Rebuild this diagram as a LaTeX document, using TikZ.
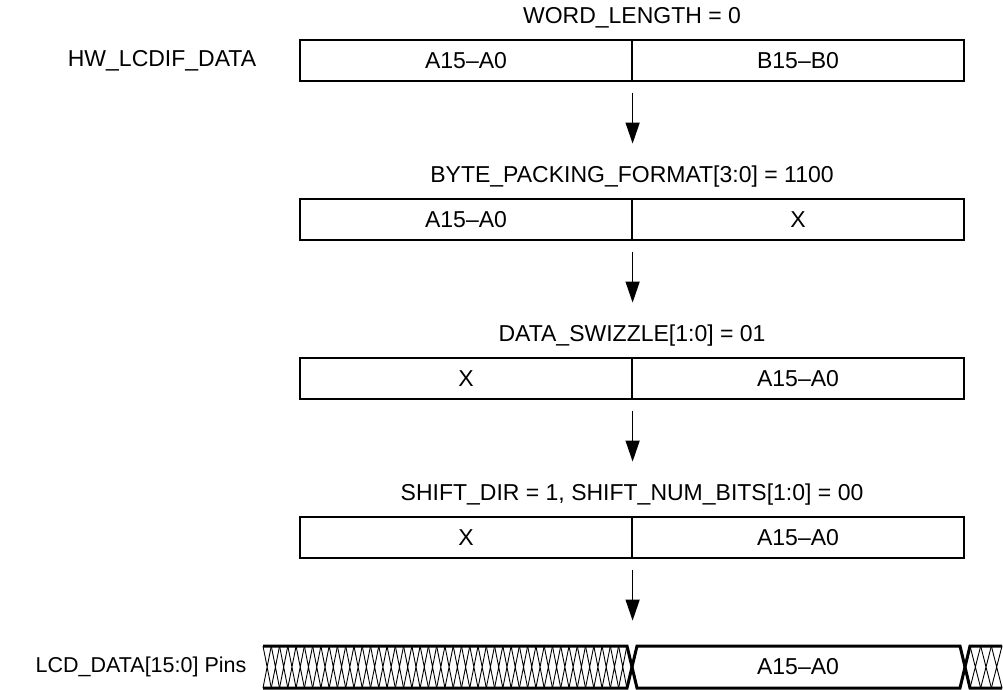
\documentclass[tikz,border=0pt]{standalone}
\usepackage{fontspec}
\setmainfont{Liberation Sans}
\usepackage{tikz}
\usetikzlibrary{arrows.meta,positioning}

\begin{document}
\begin{tikzpicture}[x=1pt,y=-1pt,
  every node/.style={font=\fontsize{23}{27}\selectfont},
  cell/.style={draw, line width=1.2pt, minimum width=332pt, minimum height=41pt, inner sep=0pt},
  arr/.style={line width=1.4pt, -{Triangle[length=21pt,width=14pt]}},
  bus/.style={line width=3pt, line join=miter},
  hatch/.style={line width=0.9pt}]
\useasboundingbox (0,0) rectangle (1003,690);

\node (reg) at (162,60.5) {HW\_LCDIF\_DATA};
\node (t1) at (632,18) {WORD\_LENGTH = 0};
\node[cell] (a1) at (466,60.5) {A15–A0};
\node[cell] (b1) at (798,60.5) {B15–B0};
\draw[arr] ([yshift=-11pt]a1.south east) -- ([yshift=-62pt]a1.south east);

\node (t2) at (632,177) {BYTE\_PACKING\_FORMAT[3:0] = 1100};
\node[cell] (a2) at (466,219.5) {A15–A0};
\node[cell] (b2) at (798,219.5) {X};
\draw[arr] ([yshift=-11pt]a2.south east) -- ([yshift=-62pt]a2.south east);

\node (t3) at (632,336) {DATA\_SWIZZLE[1:0] = 01};
\node[cell] (a3) at (466,378.5) {X};
\node[cell] (b3) at (798,378.5) {A15–A0};
\draw[arr] ([yshift=-11pt]a3.south east) -- ([yshift=-62pt]a3.south east);

\node (t4) at (632,495) {SHIFT\_DIR = 1, SHIFT\_NUM\_BITS[1:0] = 00};
\node[cell] (a4) at (466,537.5) {X};
\node[cell] (b4) at (798,537.5) {A15–A0};
\draw[arr] ([yshift=-11pt]a4.south east) -- ([yshift=-62pt]a4.south east);

\node[font=\fontsize{21.5}{26}\selectfont] (pins) at (141,667) {LCD\_DATA[15:0] Pins};
\node (d5) at (798,667) {A15–A0};
\foreach \i in {0,...,43}
  \draw[hatch] ({263+\i*8.27},646) -- ({263+(\i+1)*8.27},688)
               ({263+\i*8.27},688) -- ({263+(\i+1)*8.27},646);
\foreach \i in {0,1,2}
  \draw[hatch] ({970+\i*10.67},646) -- ({970+(\i+1)*10.67},688)
               ({970+\i*10.67},688) -- ({970+(\i+1)*10.67},646);
\draw[bus] (263,646) -- (627,646) -- (637,688) -- (960,688) -- (970,646) -- (1002,646);
\draw[bus] (263,688) -- (627,688) -- (637,646) -- (960,646) -- (970,688) -- (1002,688);
\end{tikzpicture}
\end{document}
